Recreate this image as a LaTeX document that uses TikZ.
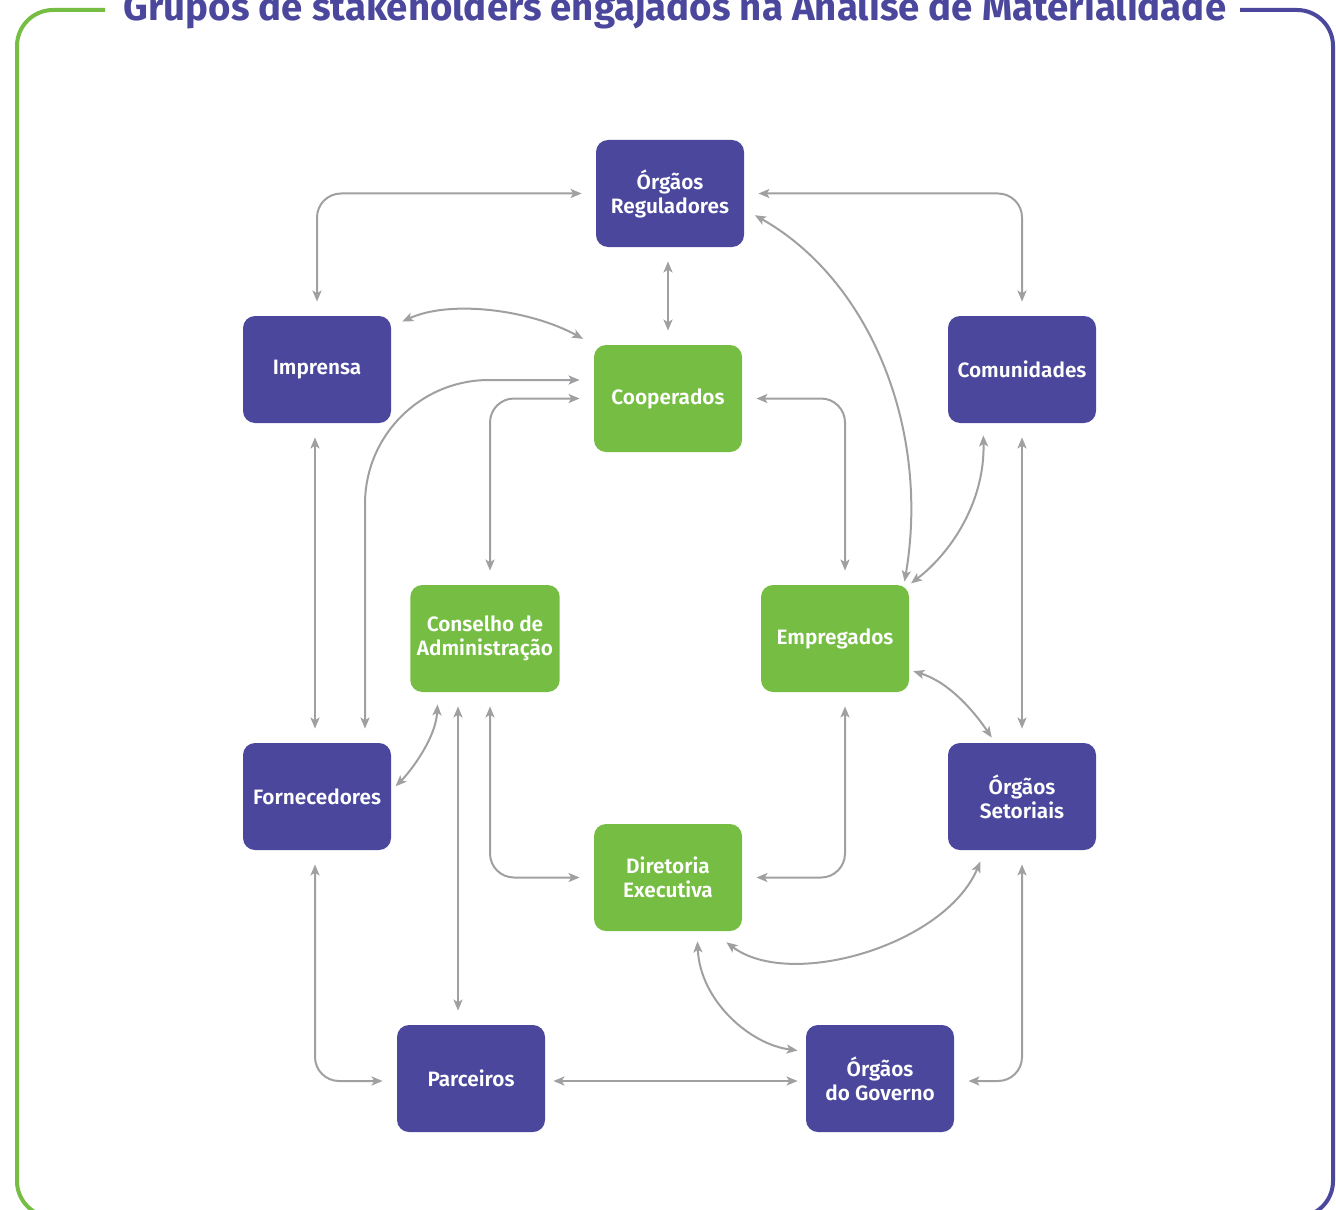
\documentclass[tikz,border=0pt]{standalone}
\usepackage{fontspec}
\setmainfont{Fira Sans}
\newfontfamily\boxfont{Fira Sans SemiBold}
\usetikzlibrary{arrows.meta}
\definecolor{coopblue}{HTML}{4A479D}
\definecolor{coopgreen}{HTML}{76BE43}
\definecolor{linkgray}{HTML}{A0A0A2}

\begin{document}
\begin{tikzpicture}[x=0.5pt, y=-0.5pt,
    box/.style={rounded corners=6pt, minimum width=74pt, minimum height=53.5pt,
        text=white, align=center, font=\boxfont\fontsize{10.4}{12}\selectfont},
    bluebox/.style={box, fill=coopblue},
    greenbox/.style={box, fill=coopgreen},
    link/.style={draw=linkgray, line width=1pt,
        {Stealth[length=5.5pt,width=4.5pt,inset=1.3pt]}-{Stealth[length=5.5pt,width=4.5pt,inset=1.3pt]},
        shorten <=7pt, shorten >=7pt},
    corner/.style={rounded corners=12pt}] %px grid
    \useasboundingbox (0,0) rectangle (1336,1209);

    % frame and title
    \draw[coopgreen, line width=2pt, rounded corners=18pt] (105,10) -- (17,10) -- (17,1217) -- (668,1217);
    \draw[coopblue, line width=2pt, rounded corners=18pt] (1240,10) -- (1333,10) -- (1333,1217) -- (668,1217);
    \node[anchor=base, text=coopblue, font=\bfseries\fontsize{19.2}{22}\selectfont] (title) at (675,21)
        {Grupos de stakeholders engajados na Análise de Materialidade};

    % stakeholders
    \node[bluebox] (reg) at (670,193.5) {Órgãos\\Reguladores};
    \node[bluebox] (imp) at (317,369.5) {Imprensa};
    \node[bluebox] (com) at (1022,369.5) {Comunidades};
    \node[greenbox] (coop) at (668,398.5) {Cooperados};
    \node[greenbox] (cons) at (485,638.5) {Conselho de\\Administração};
    \node[greenbox] (emp) at (835,638.5) {Empregados};
    \node[bluebox] (forn) at (317,796.5) {Fornecedores};
    \node[bluebox] (setor) at (1022,796.5) {Órgãos\\Setoriais};
    \node[greenbox] (diret) at (668,877.5) {Diretoria\\Executiva};
    \node[bluebox] (par) at (471,1078.5) {Parceiros};
    \node[bluebox] (gov) at (880,1078.5) {Órgãos\\do Governo};

    % straight and elbow links
    \draw[link, corner] (reg.west) -| (imp.north);
    \draw[link, corner] (reg.east) -| (com.north);
    \draw[link] (coop.north) -- (coop.north |- reg.south);
    \draw[link, rounded corners=62pt] ([yshift=9.25pt]coop.west) -| ([xshift=24pt]forn.north);
    \draw[link, corner] (coop.west) -| ([xshift=2.5pt]cons.north);
    \draw[link, corner] (coop.east) -| ([xshift=5pt]emp.north);
    \draw[link] (com.south) -- (setor.north);
    \draw[link] ([xshift=-1pt]imp.south) -- ([xshift=-1pt]forn.north);
    \draw[link] ([xshift=-13.5pt]cons.south) -- ([xshift=-13.5pt]cons.south |- par.north);
    \draw[link, corner] ([xshift=2.5pt]cons.south) |- (diret.west);
    \draw[link, corner] ([xshift=5pt]emp.south) |- (diret.east);
    \draw[link, corner] ([xshift=-1pt]forn.south) |- ([yshift=-1.25pt]par.west);
    \draw[link, shorten <=4pt, shorten >=4pt] ([yshift=-1.25pt]par.east) -- ([yshift=-1.25pt]gov.west);
    \draw[link, corner] (setor.south) |- ([yshift=-1.25pt]gov.east);

    % curved links
    \draw[link, shorten <=6pt, shorten >=1.5pt] (reg.-12) .. controls +(126,71) and +(26.5,-155) .. (emp.38);
    \draw[link, shorten <=6pt, shorten >=6pt] (imp.30) .. controls +(59,-27) and +(-64,-35) .. (coop.north west);
    \draw[link, shorten <=6pt, shorten >=1pt] ([xshift=-19.5pt]com.south) .. controls +(2,77) and +(43,-33) .. (emp.north east);
    \draw[link, shorten <=2pt, shorten >=3pt] (emp.-23) .. controls +(40,12) and +(-20,-30) .. ([xshift=-13.5pt]setor.north);
    \draw[link, shorten <=6pt, shorten >=3pt] ([xshift=-23.5pt]cons.south) .. controls +(-2,45) and +(20,-20) .. ([yshift=3pt]forn.east);
    \draw[link, shorten <=6pt, shorten >=4pt] ([xshift=-18.5pt]setor.south) .. controls +(-40,95) and +(70,53) .. ([xshift=26pt,yshift=-3pt]diret.south);
    \draw[link, shorten <=5pt, shorten >=4pt] ([xshift=14.5pt]diret.south) .. controls +(3,69) and +(-56,-7) .. (gov.160);
\end{tikzpicture}
\end{document}
